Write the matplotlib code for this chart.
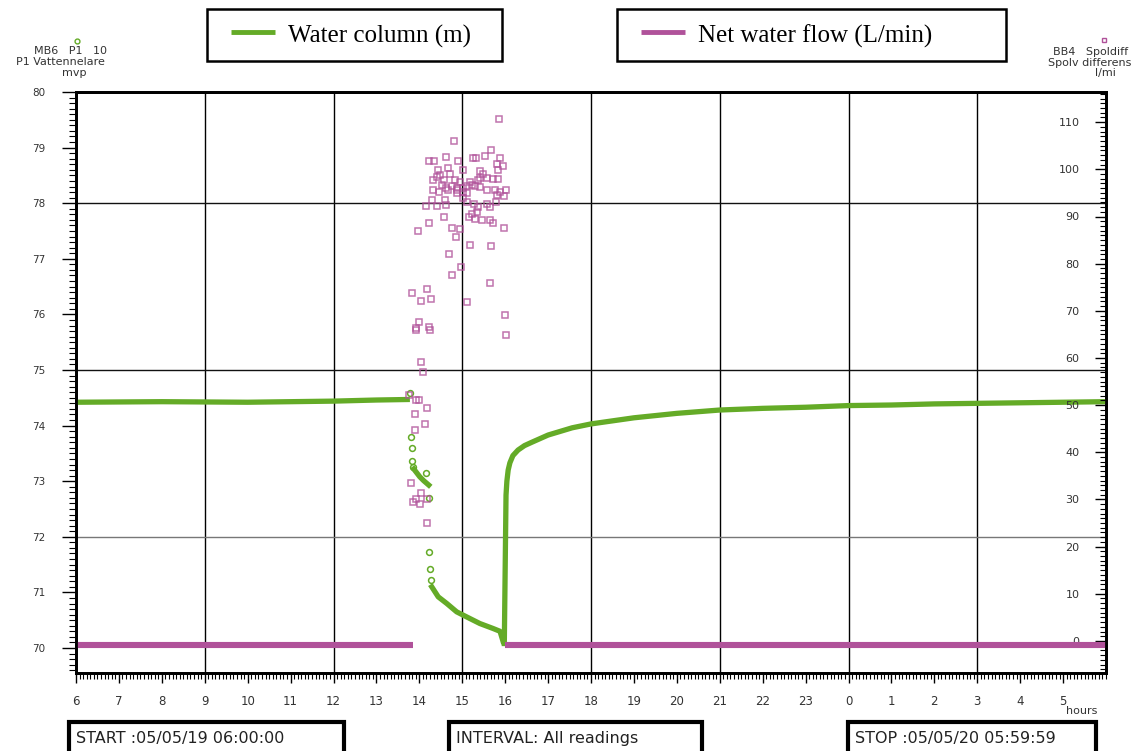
import matplotlib
matplotlib.use("Agg")
import matplotlib.pyplot as plt
from matplotlib.patches import Rectangle
from matplotlib.lines import Line2D
from matplotlib.ticker import MultipleLocator, FixedLocator, FixedFormatter

# ---------------- data ----------------
# Water column (m), continuous logger trace
wc_before_h = [6.0, 8.0, 10.0, 12.0, 13.0, 13.78]
wc_before_v = [74.42, 74.43, 74.42, 74.44, 74.46, 74.47]

wc_drop_h = [13.87, 13.95, 14.01, 14.10, 14.22]
wc_drop_v = [73.22, 73.14, 73.08, 73.01, 72.93]

wc_decay_h = [14.29, 14.44, 14.64, 14.87, 15.10, 15.41, 15.72, 15.88, 15.95]
wc_decay_v = [71.10, 70.92, 70.80, 70.65, 70.56, 70.44, 70.35, 70.30, 70.12]

wc_recover_h = [15.98, 16.02, 16.04, 16.07, 16.11, 16.18, 16.30, 16.45, 16.62,
                17.0, 17.56, 18.0, 19.0, 20.0, 21.0, 22.0, 23.0, 24.0, 25.0,
                26.0, 27.0, 28.0, 29.0, 30.0]
wc_recover_v = [70.08, 72.75, 73.00, 73.20, 73.33, 73.46, 73.56, 73.64, 73.70,
                73.83, 73.96, 74.03, 74.14, 74.22, 74.28, 74.31, 74.33, 74.36,
                74.37, 74.39, 74.40, 74.41, 74.42, 74.43]

# Isolated water-column readings during the fast drawdown
wc_pts_h = [13.78, 13.80, 13.82, 13.84, 13.86, 14.15, 14.22, 14.22, 14.25, 14.27]
wc_pts_v = [74.59, 73.80, 73.60, 73.36, 73.25, 73.15, 72.70, 71.73, 71.42, 71.22]

# Net water flow (L/min), baseline
flow_base1_h = [6.0, 13.85]
flow_base1_v = [-0.8, -0.8]
flow_base2_h = [16.0, 30.0]
flow_base2_v = [-0.8, -0.8]

# Net water flow readings while flushing
flow_pts_h = [
    15.86, 14.81, 15.66, 14.62, 15.24, 15.33, 15.54, 15.89, 14.23, 14.35,
    14.90, 15.82, 15.96, 14.43, 14.67, 15.01, 15.84, 15.41, 15.49, 14.48,
    14.71, 14.40, 14.57, 14.83, 14.95, 15.18, 15.37, 15.57, 15.72, 15.84,
    14.33, 14.52, 14.63, 14.75, 14.88, 15.02, 15.12, 15.22, 15.30, 15.41,
    15.41, 14.33, 14.45, 14.67, 14.87, 15.01, 15.12, 15.57, 15.76, 15.89,
    16.02, 15.80, 15.97, 15.02, 14.88, 14.29, 14.60, 14.15, 14.42, 14.62,
    15.10, 15.27, 15.37, 15.58, 15.65, 15.79, 15.16, 15.30, 15.22, 15.34,
    15.45, 15.65, 15.72, 14.58, 14.23, 13.96, 14.75, 14.95, 15.97, 14.85,
    15.18, 15.67, 14.70, 14.96, 14.75, 15.65, 13.84, 14.19, 14.05, 14.27,
    15.10, 16.00, 14.00, 14.23, 13.92, 13.92, 14.26, 16.02, 14.05, 14.09,
    13.92, 14.00, 14.18, 13.91, 14.14, 13.89, 13.81, 14.04, 13.86, 13.92,
    14.01, 14.18, 14.17, 13.76,
]
flow_pts_v = [
    110.7, 106.0, 104.2, 102.6, 102.4, 102.4, 102.8, 102.4, 101.7, 101.7,
    101.7, 101.2, 100.8, 99.9, 100.2, 99.8, 99.8, 99.6, 99.1, 98.9,
    99.1, 98.4, 97.7, 97.7, 97.3, 97.3, 97.7, 98.2, 98.0, 98.0,
    97.7, 96.6, 96.1, 96.4, 96.1, 96.1, 96.4, 96.6, 96.4, 98.2,
    96.2, 95.7, 95.2, 95.7, 95.6, 95.2, 94.9, 95.7, 95.6, 95.2,
    95.6, 94.5, 94.3, 94.0, 95.0, 93.6, 93.4, 92.3, 92.2, 92.4,
    93.1, 92.6, 92.0, 92.7, 92.0, 93.1, 89.9, 89.5, 90.6, 90.9,
    89.3, 89.2, 88.6, 90.0, 88.6, 86.9, 87.5, 87.3, 87.6, 85.7,
    84.0, 83.8, 82.1, 79.3, 77.5, 75.9, 73.8, 74.7, 72.0, 72.5,
    71.9, 69.2, 67.6, 66.6, 66.4, 65.9, 65.9, 64.8, 59.2, 57.1,
    51.1, 51.1, 49.3, 48.2, 45.9, 44.7, 33.4, 31.4, 29.4, 30.0,
    29.0, 30.2, 25.1, 52.1,
]

x_major = list(range(6, 30))
x_labels = [str(h % 24) for h in x_major]
left_ticks = list(range(70, 81))
right_ticks = list(range(0, 111, 10))

legend_labels = ["Water column (m)", "Net water flow (L/min)"]
footer_labels = ["START :05/05/19 06:00:00", "INTERVAL: All readings",
                 "STOP :05/05/20 05:59:59"]

GREEN = "#64ab27"
PURPLE = "#b0529a"
TXT = "#333333"

W, H = 1144, 751
fig = plt.figure(figsize=(W / 100, H / 100), dpi=100)


def fx(px):
    return px / W


def fy(py):
    return 1 - py / H


ax = fig.add_axes([fx(76), fy(673), fx(1106) - fx(76), fy(92) - fy(673)])
ax2 = ax.twinx()

ax.set_xlim(6, 30)
ax.set_ylim(69.55, 80)
ax2.set_ylim(-6.8, 116.4)

# grid: every 3 hours and every 3 m
for h in range(9, 30, 3):
    ax.axvline(h, color="black", lw=1.0, zorder=1)
for v in (72, 75, 78):
    ax.axhline(v, color="#111111" if v != 72 else "#777777", lw=1.0, zorder=1)

# water column
ax.plot(wc_before_h, wc_before_v, color=GREEN, lw=3.8, solid_capstyle="butt", zorder=3)
ax.plot(wc_drop_h, wc_drop_v, color=GREEN, lw=3.8, zorder=3)
ax.plot(wc_decay_h, wc_decay_v, color=GREEN, lw=3.8, zorder=3)
ax.plot(wc_recover_h, wc_recover_v, color=GREEN, lw=3.8, zorder=3)
ax.plot(wc_pts_h, wc_pts_v, ls="none", marker="o", ms=4.2, mfc="none",
        mec=GREEN, mew=1.1, zorder=3)

# net water flow
ax2.plot(flow_base1_h, flow_base1_v, color=PURPLE, lw=4.4, solid_capstyle="butt", zorder=2)
ax2.plot(flow_base2_h, flow_base2_v, color=PURPLE, lw=4.4, solid_capstyle="butt", zorder=2)
ax2.plot(flow_pts_h, flow_pts_v, ls="none", marker="s", ms=5.0, mfc="none",
         mec=PURPLE, mew=1.1, alpha=0.8, zorder=2)
ax2.set_axisbelow(True)

# spines
for a in (ax, ax2):
    for s in a.spines.values():
        s.set_linewidth(2.0)
        s.set_color("black")

# x axis ticks
ax.xaxis.set_major_locator(FixedLocator(x_major))
ax.xaxis.set_major_formatter(FixedFormatter(x_labels))
ax.xaxis.set_minor_locator(MultipleLocator(1 / 12))
ax.tick_params(axis="x", which="major", direction="out", length=7, width=1.0,
               labelsize=8.5, labelcolor=TXT, pad=9)
ax.tick_params(axis="x", which="minor", direction="out", length=4, width=0.8)

# left y axis
ax.yaxis.set_major_locator(FixedLocator(left_ticks))
ax.yaxis.set_minor_locator(MultipleLocator(0.1))
ax.tick_params(axis="y", which="major", direction="out", length=10, width=1.0,
               labelsize=7.5, labelcolor=TXT, pad=12)
ax.tick_params(axis="y", which="minor", direction="out", length=5, width=0.8)

# right y axis, labels inside the frame
ax2.yaxis.set_major_locator(FixedLocator(right_ticks))
ax2.yaxis.set_minor_locator(MultipleLocator(1))
ax2.tick_params(axis="y", which="major", direction="in", length=8, width=1.0,
                labelsize=8, labelcolor=TXT, pad=-19)
ax2.tick_params(axis="y", which="minor", direction="in", length=4, width=0.8)
for lab in ax2.get_yticklabels():
    lab.set_horizontalalignment("right")

fig.text(fx(1082), fy(711), "hours", fontsize=8, color=TXT, ha="center", va="center")

# axis headers
fig.text(fx(71), fy(51), "MB6   P1   10", fontsize=8, color=TXT, ha="center", va="center")
fig.text(fx(60), fy(62), "P1 Vattennelare", fontsize=8, color=TXT, ha="center", va="center")
fig.text(fx(74), fy(73), "mvp", fontsize=8, color=TXT, ha="center", va="center")
fig.add_artist(Line2D([fx(77)], [fy(41)], marker="o", ms=3.5, mfc="none",
                      mec=GREEN, mew=1.0, ls="none"))

fig.text(fx(1091), fy(52), "BB4   Spoldiff", fontsize=8, color=TXT, ha="center", va="center")
fig.text(fx(1090), fy(63), "Spolv differens", fontsize=8, color=TXT, ha="center", va="center")
fig.text(fx(1105), fy(73), "l/mi", fontsize=8, color=TXT, ha="center", va="center")
fig.add_artist(Line2D([fx(1104)], [fy(40)], marker="s", ms=3.5, mfc="none",
                      mec=PURPLE, mew=1.0, ls="none"))

# legend boxes
legend_boxes = [(207, 502, GREEN), (617, 1006, PURPLE)]
for (x0, x1, col), text in zip(legend_boxes, legend_labels):
    fig.add_artist(Rectangle((fx(x0), fy(61)), fx(x1) - fx(x0), fy(9) - fy(61),
                             transform=fig.transFigure, fill=False,
                             edgecolor="black", lw=1.8))
    fig.add_artist(Line2D([fx(x0 + 24), fx(x0 + 68)], [fy(32), fy(32)],
                          color=col, lw=3.5, solid_capstyle="butt"))
    fig.text(fx(x0 + 81), fy(43), text, fontsize=18, family="Liberation Serif",
             color="black", ha="left", va="baseline")

# footer boxes
footer_boxes = [(69, 344), (449, 702), (848, 1096)]
for (x0, x1), text in zip(footer_boxes, footer_labels):
    fig.add_artist(Rectangle((fx(x0), fy(756)), fx(x1) - fx(x0), fy(722) - fy(756),
                             transform=fig.transFigure, fill=False,
                             edgecolor="black", lw=3.0))
    fig.text(fx(x0 + 7), fy(739), text, fontsize=11.5, color="#222222",
             ha="left", va="center")

fig.savefig("out.png", dpi=100)
